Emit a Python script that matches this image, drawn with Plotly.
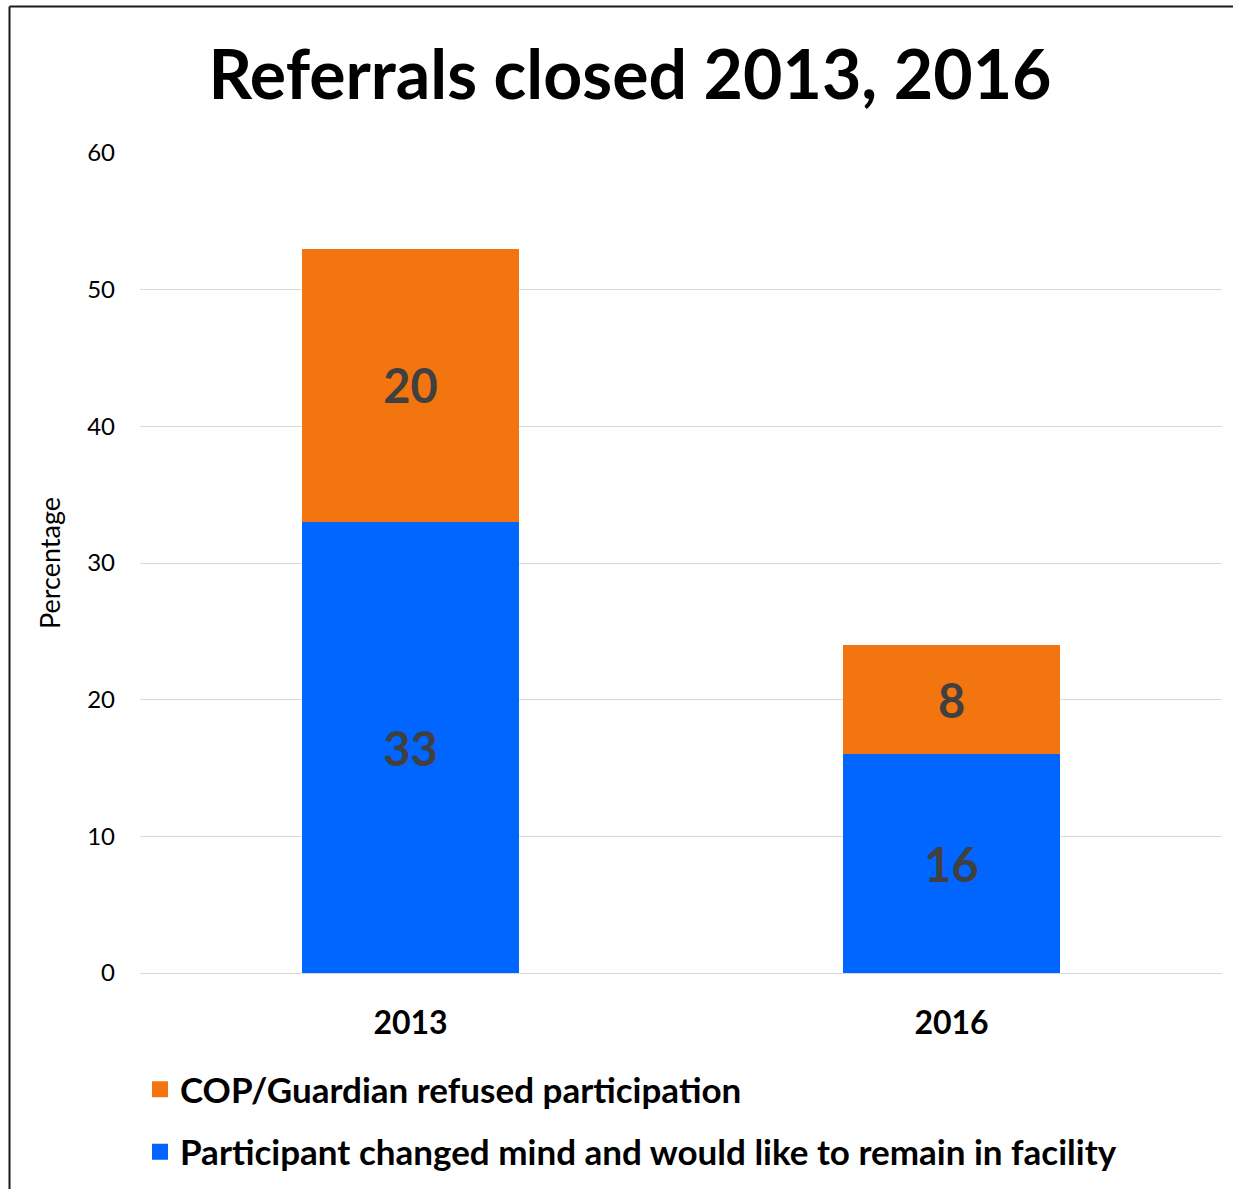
import plotly.graph_objects as go

# Data
years = ["2013", "2016"]
changed_mind = [33, 16]
guardian_refused = [20, 8]
series_names = [
    "COP/Guardian refused participation",
    "Participant changed mind and would like to remain in facility",
]
y_ticks = [0, 10, 20, 30, 40, 50, 60]

BLUE = "#0066FF"
ORANGE = "#F2750F"
LABEL_GRAY = "#404040"
FONT = "Lato"

W, H = 1233, 1189
ML, MR, MT, MB = 140, 11, 153, 216

fig = go.Figure()

fig.add_trace(go.Bar(
    x=years, y=changed_mind, marker=dict(color=BLUE, line=dict(width=0)),
    text=[str(v) for v in changed_mind], textposition="inside",
    insidetextanchor="middle",
    textfont=dict(family=FONT, size=47, color=LABEL_GRAY, weight="bold"),
    showlegend=False, hoverinfo="x+y",
))
fig.add_trace(go.Bar(
    x=years, y=guardian_refused, marker=dict(color=ORANGE, line=dict(width=0)),
    text=[str(v) for v in guardian_refused], textposition="inside",
    insidetextanchor="middle",
    textfont=dict(family=FONT, size=47, color=LABEL_GRAY, weight="bold"),
    showlegend=False, hoverinfo="x+y",
))

# Legend entries (square swatches)
for name, color in [(series_names[0], ORANGE), (series_names[1], BLUE)]:
    fig.add_trace(go.Scatter(
        x=[None], y=[None], mode="markers", name=name, legendgroup=name,
        marker=dict(symbol="square", size=16, color=color),
    ))

# Outer frame of the chart
pw = W - ML - MR
ph = H - MT - MB
def px_x(p):
    return (p - ML) / pw
def px_y(p):
    return (H - MB - p) / ph

fig.add_shape(type="line", xref="paper", yref="paper",
              x0=px_x(9.5), x1=px_x(1300), y0=px_y(6.5), y1=px_y(6.5),
              line=dict(color="#1a1a1a", width=2))
fig.add_shape(type="line", xref="paper", yref="paper",
              x0=px_x(9.5), x1=px_x(9.5), y0=px_y(6.5), y1=px_y(1300),
              line=dict(color="#1a1a1a", width=2))

fig.update_layout(
    width=W, height=H,
    margin=dict(l=ML, r=MR, t=MT, b=MB, autoexpand=False),
    paper_bgcolor="white", plot_bgcolor="white",
    barmode="stack", bargap=0.6,
    font=dict(family=FONT, color="black"),
    title=dict(
        text="<b>Referrals closed 2013, 2016</b>",
        font=dict(family=FONT, size=68, color="black"),
        x=630 / W, xanchor="center", xref="container",
        y=1 - 75 / H, yanchor="middle", yref="container",
    ),
    xaxis=dict(
        type="category", showgrid=False, showline=False, ticks="",
        tickfont=dict(family=FONT, size=32, color="black", weight="bold"),
        ticklabelstandoff=28,
    ),
    yaxis=dict(
        range=[0, 60], tickvals=y_ticks, showgrid=True, gridcolor="#D9D9D9",
        gridwidth=1, zeroline=True, zerolinecolor="#D9D9D9", zerolinewidth=1,
        showline=False, ticks="",
        tickfont=dict(family=FONT, size=24, color="black"),
        ticklabelstandoff=24,
        title=dict(text="Percentage", font=dict(family=FONT, size=27, color="black"),
                   standoff=18),
    ),
    legend=dict(
        orientation="v", x=0, xanchor="left", y=px_y(1060), yanchor="top",
        font=dict(family=FONT, size=35, color="black", weight="bold"),
        tracegroupgap=14, traceorder="grouped", bgcolor="rgba(0,0,0,0)",
    ),
)

fig.write_html("out.html")
